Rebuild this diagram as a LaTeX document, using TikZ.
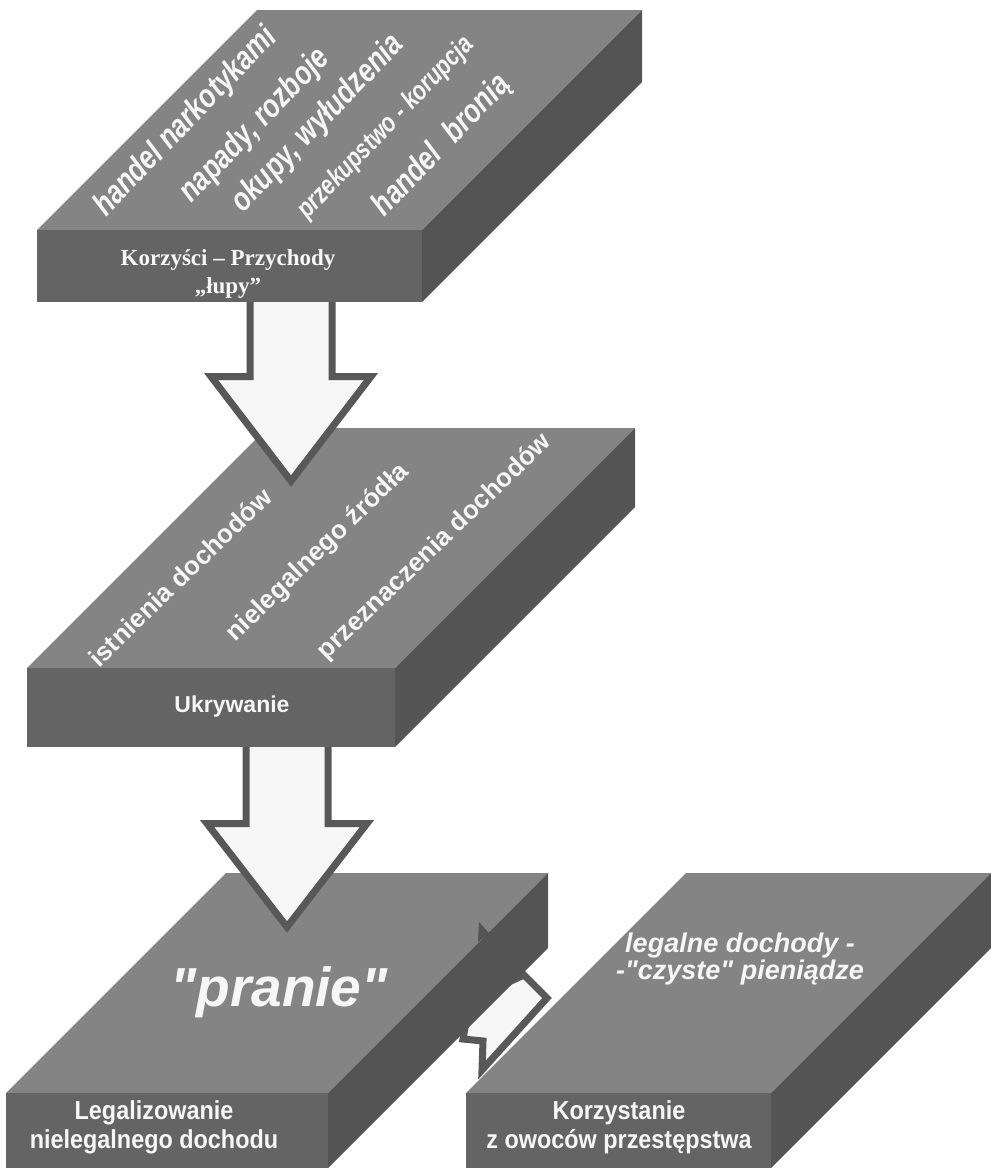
\documentclass[tikz,border=0pt]{standalone}
\usepackage{fontspec}
\setmainfont{Liberation Serif}
\setsansfont{Liberation Sans}
\newfontfamily\condsf[FakeStretch=0.8]{Liberation Sans}
\newfontfamily\narrowsf[FakeStretch=0.9]{Liberation Sans}
\newfontfamily\quotesf{Liberation Sans}
\usetikzlibrary{positioning, calc}
\definecolor{slabtop}{RGB}{132,132,132}
\definecolor{slabfront}{RGB}{100,100,100}
\definecolor{slabside}{RGB}{84,84,84}
\definecolor{arrowline}{RGB}{88,88,88}
\definecolor{arrowfill}{RGB}{246,246,246}
\definecolor{labelwhite}{RGB}{246,246,246}
\tikzset{
    topface/.style={fill=slabtop},
    frontface/.style={fill=slabfront},
    sideface/.style={fill=slabside},
    blockarrow/.style={
        draw=arrowline,
        fill=arrowfill,
        line width=7pt,
        line join=miter
    },
    slabtext/.style={
        text=labelwhite,
        align=center,
        inner sep=0pt
    },
    tilted/.style={
        slabtext,
        rotate=#1,
        font=\condsf\bfseries\itshape\fontsize{33}{33}\selectfont
    },
    tiltedup/.style={
        slabtext,
        rotate=#1,
        font=\sffamily\bfseries\fontsize{26}{26}\selectfont
    }
}
% slab: name, front-left x, front-top y, width, depth, thickness
\newcommand{\drawslab}[6]{%
    \coordinate (#1-fl) at (#2,#3);
    \coordinate (#1-fr) at (#2+#4,#3);
    \coordinate (#1-bl) at (#2+#5,#3-#5);
    \coordinate (#1-br) at (#2+#4+#5,#3-#5);
    \fill[topface] (#1-fl) -- (#1-bl) -- (#1-br) -- (#1-fr) -- cycle;
    \fill[frontface] (#1-fl) rectangle ++(#4,#6);
    \fill[sideface] (#1-fr) -- (#1-br) -- ++(0,#6) -- ($(#1-fr)+(0,#6)$) -- cycle;
}
% down block arrow: centre x, shaft top, head top, tip
\newcommand{\blockdown}[4]{%
    \draw[blockarrow] (#1-41,#2) -- (#1-41,#3+3.5) -- (#1-80,#3+3.5) -- (#1,#4-6)
        -- (#1+80,#3+3.5) -- (#1+41,#3+3.5) -- (#1+41,#2) -- cycle;
}

\begin{document}
\begin{tikzpicture}[x=1pt, y=-1pt]
    \useasboundingbox (0,0) rectangle (991,1168);

    % bottom row
    \draw[blockarrow] (524,975) -- (547,998) -- (482,1070) -- (483,1041)
        -- (463,1039) -- (470,1000) -- cycle;
    \drawslab{wash}{6}{1093}{322}{220}{75}
    \fill[sideface] (489,933) -- (479,922) -- (478,942) -- cycle;
    \drawslab{use}{466}{1093}{305}{220}{75}

    % hiding
    \blockdown{287}{740}{820}{933}
    \drawslab{hide}{27}{668}{368}{240}{79}

    % gains
    \blockdown{291}{295}{373}{487}
    \drawslab{gain}{37}{230}{385}{220}{72}

    \foreach \n/\x/\y/\txt in {1/186/122/handel narkotykami, 2/255/126/{napady, rozboje},
                               3/318/124/{okupy, wyłudzenia}, 4/442/146/handel\hspace{.5em}bronią} {
        \node[tilted=46] (crime\n) at (\x,\y) {\txt};
    }
    \node[tilted=46, font=\condsf\bfseries\itshape\fontsize{27}{27}\selectfont] (crime5) at (386,128) {przekupstwo - korupcja};
    \node[slabtext, font=\rmfamily\bfseries\fontsize{23}{28}\selectfont] (gains) at (228,274) {Korzyści – Przychody\\„łupy”};

    \foreach \n/\x/\y/\txt in {1/180/577/istnienia dochodów, 2/318/553/nielegalnego źródła,
                               3/435/547/przeznaczenia dochodów} {
        \node[tiltedup=44] (conceal\n) at (\x,\y) {\txt};
    }
    \node[slabtext, font=\sffamily\bfseries\fontsize{23}{28}\selectfont] (hiding) at (232,707) {Ukrywanie};

    \node[slabtext, font=\quotesf\bfseries\itshape\fontsize{55}{60}\selectfont] (pranie) at (279,992) {"pranie"};
    \node[slabtext, font=\quotesf\bfseries\itshape\fontsize{27}{25}\selectfont] (clean) at (740,959) {legalne dochody -\\-"czyste" pieniądze};
    \node[slabtext, font=\narrowsf\bfseries\fontsize{26}{29}\selectfont] (legal) at (154,1127) {Legalizowanie\\nielegalnego dochodu};
    \node[slabtext, font=\narrowsf\bfseries\fontsize{26}{29}\selectfont] (fruits) at (619,1127) {Korzystanie\\z owoców przestępstwa};
\end{tikzpicture}
\end{document}
